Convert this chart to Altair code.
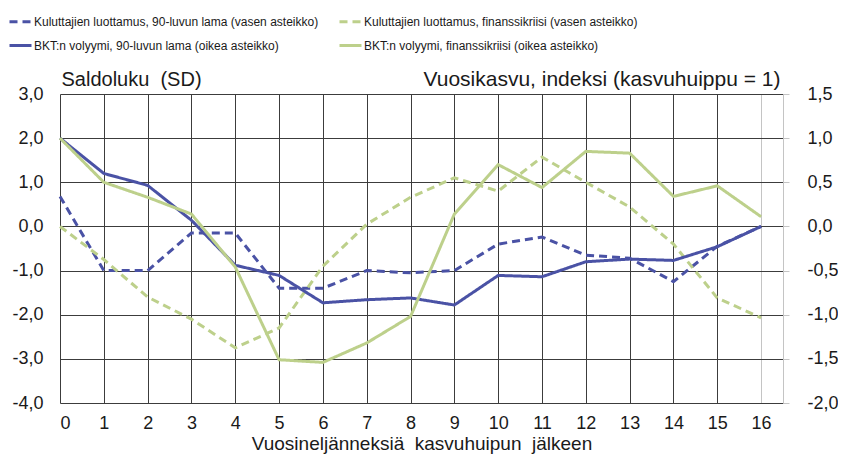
import altair as alt
import pandas as pd

# Quarters after growth peak
quarters = list(range(17))

# Series names
n_kl90 = "Kuluttajien luottamus, 90-luvun lama (vasen asteikko)"
n_klfin = "Kuluttajien luottamus, finanssikriisi (vasen asteikko)"
n_bkt90 = "BKT:n volyymi, 90-luvun lama (oikea asteikko)"
n_bktfin = "BKT:n volyymi, finanssikriisi (oikea asteikko)"
# legend domain order (column-wise fill)
names = [n_kl90, n_bkt90, n_klfin, n_bktfin]

# Left scale (Saldoluku, SD)
kl_90 = [0.68, -1.0, -1.0, -0.15, -0.15, -1.4, -1.4, -1.0, -1.05, -1.0, -0.4, -0.24,
         -0.65, -0.72, -1.25, -0.45, 0.0]
kl_fin = [0.0, -0.75, -1.6, -2.1, -2.75, -2.3, -0.9, 0.05, 0.66, 1.1, 0.8, 1.57,
          1.0, 0.44, -0.4, -1.62, -2.07]
# Right scale (Vuosikasvu, indeksi)
bkt_90 = [1.0, 0.6, 0.465, 0.07, -0.44, -0.555, -0.865, -0.83, -0.81, -0.89, -0.555,
          -0.57, -0.4, -0.37, -0.385, -0.23, 0.0]
bkt_fin = [1.0, 0.5, 0.33, 0.14, -0.46, -1.51, -1.54, -1.32, -1.02, 0.14, 0.7, 0.44,
           0.85, 0.83, 0.34, 0.46, 0.11]

left_ticks = [-4, -3, -2, -1, 0, 1, 2, 3]
right_ticks = [-2.0, -1.5, -1.0, -0.5, 0.0, 0.5, 1.0, 1.5]

BLUE = "#4a52a5"
GREEN = "#bdd08b"
colors = [BLUE, BLUE, GREEN, GREEN]
dashes = [[8, 5], [1, 0], [8, 5], [1, 0]]

df_left = pd.DataFrame({
    "x": quarters * 2,
    "v": kl_90 + kl_fin,
    "series": [n_kl90] * 17 + [n_klfin] * 17,
})
df_right = pd.DataFrame({
    "x": quarters * 2,
    "v": bkt_90 + bkt_fin,
    "series": [n_bkt90] * 17 + [n_bktfin] * 17,
})

label_expr = "(datum.value < 0 ? '-' : '') + replace(format(abs(datum.value), '.1f'), '.', ',')"

FONT = "Liberation Sans"
INK = "#1a1a1a"

x_axis = alt.Axis(
    values=quarters, grid=True, domain=False, ticks=False,
    gridColor={"condition": {"test": "datum.value == 16", "value": "#c4c4c4"}, "value": "#3c3c3c"},
    gridWidth=1, labelFontSize=18, labelPadding=11, labelColor=INK, labelFont=FONT,
    title="Vuosineljänneksiä \u00a0kasvuhuipun \u00a0jälkeen", titleFontSize=19, titleFont=FONT,
    titleFontWeight="normal", titleColor=INK, titleY=46, titleBaseline="alphabetic",
)
x_enc = alt.X("x:Q", scale=alt.Scale(domain=[0, 16.5], nice=False, zero=False), axis=x_axis)


def make_legend():
    return alt.Legend(
        title=None, orient="none", legendX=-52, legendY=-85, columns=2, columnPadding=14,
        rowPadding=5, padding=0, symbolType="stroke", symbolSize=484, symbolStrokeWidth=3,
        labelFont=FONT, labelFontSize=12, labelColor=INK, labelOffset=1, labelLimit=400,
        direction="vertical",
    )


color_enc = alt.Color("series:N", scale=alt.Scale(domain=names, range=colors), legend=make_legend())
dash_enc = alt.StrokeDash("series:N", scale=alt.Scale(domain=names, range=dashes), legend=make_legend())

left = alt.Chart(df_left).mark_line(strokeWidth=3).encode(
    x=x_enc,
    y=alt.Y("v:Q", scale=alt.Scale(domain=[-4, 3], nice=False, zero=False),
            axis=alt.Axis(values=left_ticks, grid=True, gridColor="#3c3c3c", gridWidth=1,
                          domain=False, ticks=False, labelExpr=label_expr,
                          labelFontSize=18, labelPadding=17, labelColor=INK, labelFont=FONT,
                          title="Saldoluku \u00a0(SD)", titleAngle=0, titleAlign="left",
                          titleBaseline="alphabetic", titleX=1, titleY=-9,
                          titleFontSize=20, titleFontWeight="normal", titleFont=FONT,
                          titleColor=INK)),
    color=color_enc,
    strokeDash=dash_enc,
)

right = alt.Chart(df_right).mark_line(strokeWidth=3).encode(
    x=x_enc,
    y=alt.Y("v:Q", scale=alt.Scale(domain=[-2, 1.5], nice=False, zero=False),
            axis=alt.Axis(orient="right", values=right_ticks, grid=False,
                          domain=True, domainColor="#c4c4c4", ticks=True, tickColor="#c4c4c4",
                          tickSize=6, labelExpr=label_expr,
                          labelFontSize=18, labelPadding=18, labelColor=INK, labelFont=FONT,
                          title="Vuosikasvu, indeksi (kasvuhuippu = 1)", titleAngle=0,
                          titleAlign="right", titleBaseline="alphabetic", titleX=-3, titleY=-9,
                          titleFontSize=21, titleFontWeight="normal", titleFont=FONT,
                          titleColor=INK)),
    color=color_enc,
    strokeDash=dash_enc,
)

chart = alt.layer(left, right).resolve_scale(y="independent").properties(
    width=723, height=309,
    autosize=alt.AutoSizeParams(type="none"),
    padding={"left": 52, "top": 86, "right": 55, "bottom": 52},
    background="white",
).configure_view(stroke=None)

chart.save("out.html", embed_options={"renderer": "svg", "actions": False})
